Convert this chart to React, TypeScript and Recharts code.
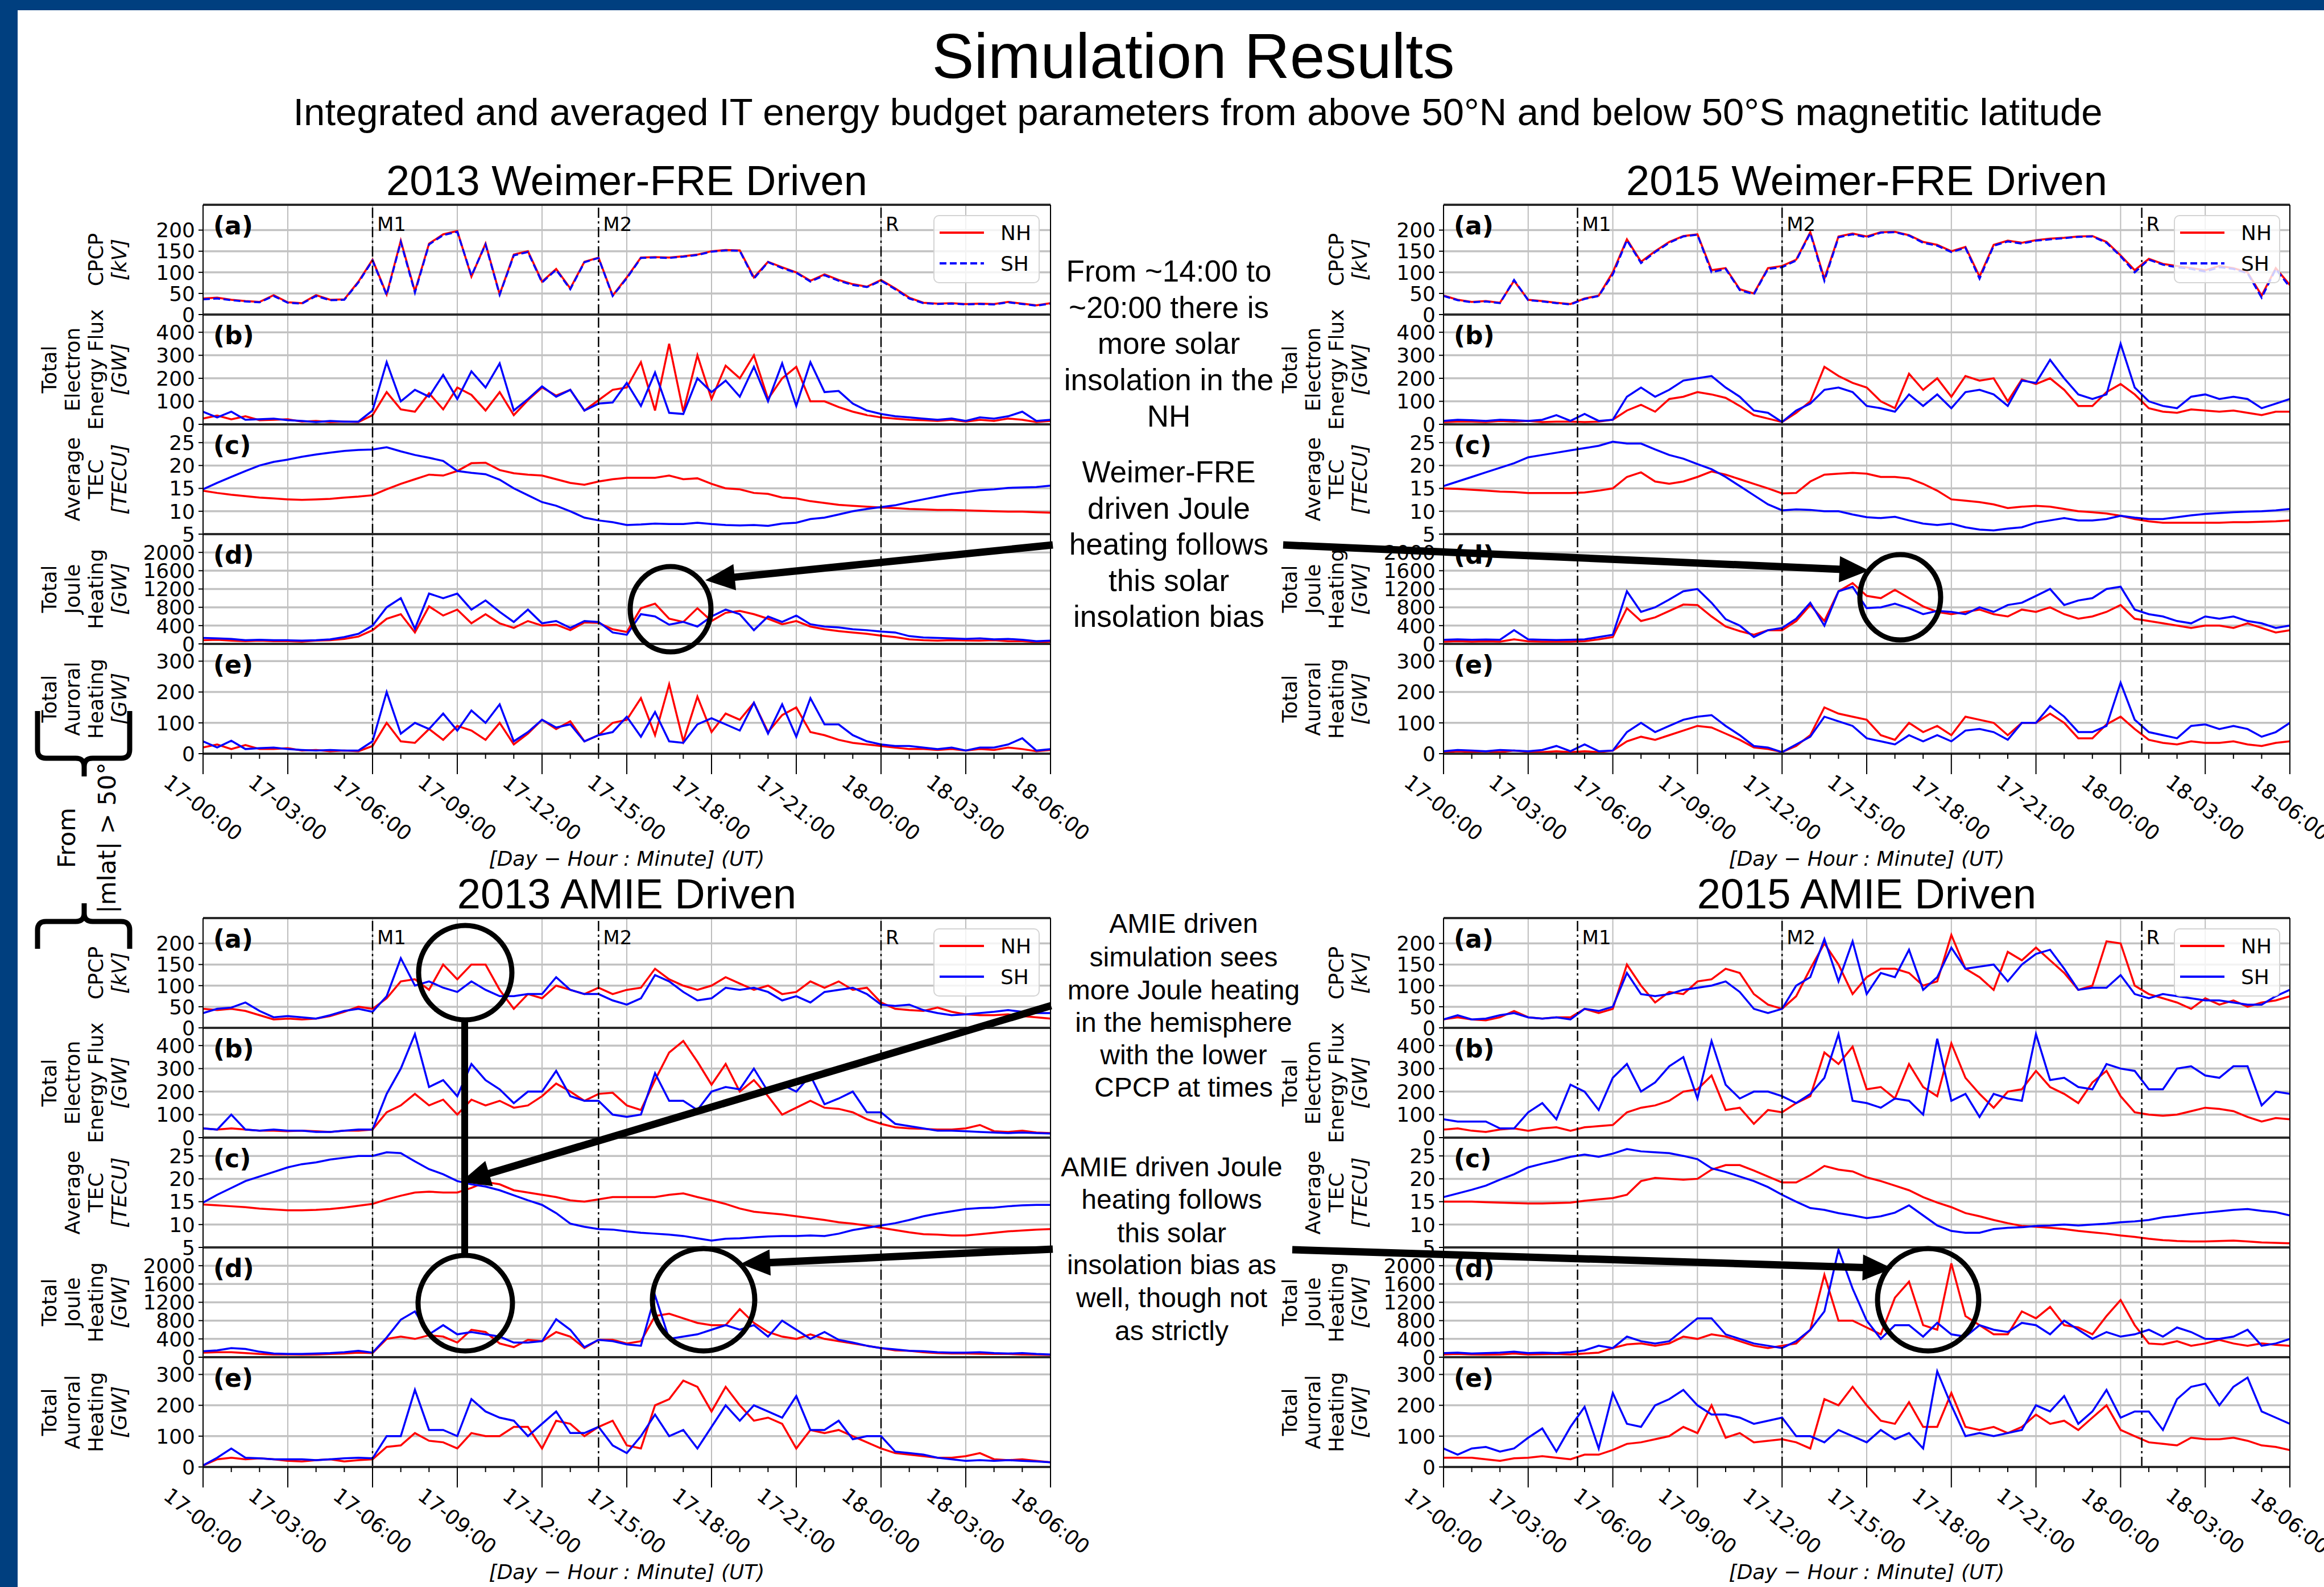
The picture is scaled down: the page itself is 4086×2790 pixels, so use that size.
import React from 'react';
import { LineChart, Line, XAxis, YAxis, ReferenceLine, Legend, CartesianGrid } from 'recharts';

// ---------- time axis ----------
const HOURS = [0,0.5,1,1.5,2,2.5,3,3.5,4,4.5,5,5.5,6,6.5,7,7.5,8,8.5,9,9.5,10,10.5,11,11.5,12,12.5,13,13.5,14,14.5,15,15.5,16,16.5,17,17.5,18,18.5,19,19.5,20,20.5,21,21.5,22,22.5,23,23.5,24,24.5,25,25.5,26,26.5,27,27.5,28,28.5,29,29.5,30];
const MINOR_TICKS = [0,1,2,3,4,5,6,7,8,9,10,11,12,13,14,15,16,17,18,19,20,21,22,23,24,25,26,27,28,29,30];
const MAJOR_TICKS = [0,3,6,9,12,15,18,21,24,27,30];
const MAJOR_LABELS = ['17-00:00','17-03:00','17-06:00','17-09:00','17-12:00','17-15:00','17-18:00','17-21:00','18-00:00','18-03:00','18-06:00'];
const VGRID = [3,6,9,12,15,18,21,24,27];
const EVENTS_2013 = [6, 14, 24];
const EVENTS_2015 = [4.75, 12, 24.75];
const EVENT_NAMES = ['M1', 'M2', 'R'];

const CPCP_TICKS = [0,50,100,150,200];
const FLUX_TICKS = [0,100,200,300,400];
const TEC_TICKS = [5,10,15,20,25];
const JOULE_TICKS = [0,400,800,1200,1600,2000];
const AUR_TICKS = [0,100,200,300];

// ---------- 2013 Weimer-FRE ----------
const w13CpcpNH = [38,40,35,32,30,46,29,27,46,35, 36,78,130,48,175,55,168,190,198,90, 168,48,142,150,78,108,62,125,135,45, 88,135,136,135,138,142,150,153,152,88, 125,112,100,80,95,82,72,66,82,62, 40,28,26,27,25,26,25,30,26,22, 27];
const w13CpcpSH = [36,38,34,31,29,44,28,26,44,34, 35,76,128,46,172,52,166,188,196,92, 166,47,140,148,76,106,60,124,134,44, 86,134,135,134,137,141,149,152,151,85, 124,110,99,78,93,80,70,65,80,60, 38,27,25,26,24,25,24,29,25,21, 26];
const w13FluxNH = [25,38,22,35,18,20,22,12,15,10, 12,10,40,140,65,55,135,65,160,128, 60,140,40,105,160,125,150,60,105,150, 160,270,60,350,55,300,110,255,200,300, 110,200,250,100,100,75,55,40,30,25, 20,18,15,20,12,20,15,25,20,10, 15];
const w13FluxSH = [55,30,55,20,22,25,18,15,10,15, 12,12,60,270,100,150,120,215,110,230, 160,265,60,110,165,120,150,60,90,95, 180,80,225,50,45,200,140,190,120,250, 100,265,80,270,140,145,90,60,45,35, 30,25,20,25,15,30,25,35,55,15, 20];
const w13TecNH = [14.5,14.0,13.6,13.3,13.0,12.8,12.6,12.5,12.6,12.7, 13.0,13.2,13.5,14.8,16.0,17.0,18.0,17.8,18.8,20.5, 20.6,19.0,18.3,18.0,17.8,17.0,16.2,15.8,16.5,17.0, 17.3,17.3,17.3,17.8,17.0,17.2,16.0,15.0,14.8,14.0, 13.8,13.0,12.8,12.2,11.8,11.4,11.2,11.0,10.8,10.7, 10.5,10.4,10.3,10.3,10.2,10.1,10.0,9.9,9.9,9.8, 9.7];
const w13TecSH = [14.8,16.2,17.5,18.8,20.0,20.8,21.3,21.9,22.4,22.8, 23.2,23.4,23.5,24.0,23.1,22.3,21.7,21.0,18.8,18.4, 18.1,16.9,15.0,13.5,12.0,11.2,10.0,8.6,8.0,7.6, 7.0,7.1,7.3,7.2,7.2,7.5,7.2,7.0,6.9,7.0, 6.8,7.3,7.5,8.3,8.6,9.3,10.0,10.5,10.9,11.3, 12.0,12.6,13.2,13.8,14.2,14.6,14.8,15.1,15.2,15.3, 15.6];
const w13JouleNH = [80,90,70,60,70,60,60,50,70,80, 110,160,300,550,650,250,820,620,750,450, 650,450,350,500,400,420,300,470,460,320, 260,780,880,550,480,780,500,680,720,650, 550,430,500,380,320,280,250,220,180,150, 100,80,70,80,75,70,80,60,60,40, 50];
const w13JouleSH = [130,120,110,80,90,80,80,70,80,100, 150,220,400,800,1000,330,1100,1000,1100,750, 950,700,480,750,450,500,350,500,480,250, 200,650,600,420,480,380,600,750,650,300, 600,480,620,430,380,360,320,300,270,250, 170,140,130,120,110,120,100,110,90,60, 70];
const w13AurNH = [20,30,15,28,15,15,18,10,12,8, 10,8,25,100,40,35,80,45,90,75, 45,100,30,65,110,80,105,40,60,100, 110,180,60,225,40,185,70,130,110,165, 70,125,150,70,60,45,35,30,25,20, 15,15,12,15,10,15,12,20,15,8, 12];
const w13AurSH = [40,20,42,15,18,20,15,12,10,12, 10,10,40,200,65,100,80,130,75,140, 100,160,40,70,110,85,95,40,60,70, 120,55,135,40,35,95,115,95,75,165, 65,160,55,180,95,95,60,40,30,25, 25,20,15,20,10,20,20,30,50,10, 15];

// ---------- 2015 Weimer-FRE ----------
const w15CpcpNH = [45,35,30,32,28,80,35,32,28,25, 38,45,100,178,125,150,172,186,190,105, 110,60,50,110,115,130,195,85,185,192, 185,195,196,188,172,165,150,160,90,165, 175,170,176,180,182,185,186,172,140,105, 132,120,115,110,105,115,110,100,45,110, 70];
const w15CpcpSH = [44,34,29,31,27,82,34,31,27,24, 37,44,95,176,122,148,170,185,189,100, 108,58,48,108,112,128,193,80,183,190, 183,194,195,187,170,163,148,158,85,163, 173,168,175,178,181,184,185,170,138,100, 130,118,112,108,102,112,108,98,40,108, 65];
const w15FluxNH = [10,12,12,10,14,12,15,10,12,12, 10,12,20,60,85,55,110,120,140,130, 115,80,40,25,10,50,100,250,210,180, 160,100,70,220,150,200,120,210,190,200, 100,195,175,200,150,80,80,140,175,130, 70,55,50,65,60,55,60,50,40,55, 55];
const w15FluxSH = [15,20,18,15,20,18,15,20,40,15, 45,15,20,120,160,120,150,190,200,210, 160,120,60,50,10,60,90,150,160,140, 80,70,55,130,80,130,70,140,150,130, 80,190,180,280,200,130,110,130,350,160, 100,80,70,120,130,110,120,110,70,90, 110];
const w15TecNH = [15.0,14.9,14.7,14.5,14.3,14.2,14.0,14.0,14.0,14.0, 14.1,14.5,15.0,17.5,18.5,16.5,16.0,16.5,17.5,18.7, 18.0,17.0,16.0,15.0,13.9,14.0,16.5,18.0,18.2,18.4, 18.2,17.5,17.5,17.2,16.0,14.5,12.6,12.3,12.0,11.5, 10.7,11.0,11.2,11.0,10.5,10.0,9.8,9.5,9.0,8.3, 7.8,7.5,7.5,7.5,7.5,7.5,7.6,7.6,7.7,7.8, 8.0];
const w15TecSH = [15.5,16.5,17.5,18.5,19.5,20.5,21.8,22.3,22.8,23.3, 23.8,24.3,25.2,24.8,24.8,23.5,22.3,21.5,20.3,19.2, 17.5,15.5,13.5,11.5,10.2,10.4,10.3,10.0,10.0,9.3, 8.7,8.5,8.8,8.0,7.3,7.0,7.3,6.5,6.0,5.8, 6.2,6.5,7.5,8.0,8.5,8.0,8.0,8.3,9.0,8.6, 8.3,8.3,8.7,9.1,9.4,9.6,9.8,9.9,10.0,10.2, 10.5];
const w15JouleNH = [50,60,50,55,50,100,55,50,50,50, 60,100,150,780,500,580,720,860,850,600, 380,280,200,300,300,500,850,500,1150,1330, 1050,1000,1180,1000,820,700,650,700,750,650, 600,750,700,800,650,550,600,700,850,550, 500,450,400,350,400,400,350,450,350,250, 300];
const w15JouleSH = [90,100,90,95,90,300,100,90,85,90, 100,150,200,1150,700,800,970,1150,1200,900, 540,400,150,300,350,550,900,400,1150,1250, 780,800,880,780,650,720,700,650,800,700, 850,900,1050,1200,850,950,1000,1200,1250,750, 650,600,500,450,600,550,600,500,450,350, 400];
const w15AurNH = [5,8,6,8,5,10,6,5,8,5, 8,5,10,40,55,45,60,75,90,85, 65,45,20,15,5,25,60,150,130,120, 110,60,45,100,70,90,60,120,110,100, 60,100,100,130,100,50,50,95,120,80, 45,35,30,40,35,35,40,30,25,35, 40];
const w15AurSH = [8,12,10,8,12,10,8,12,25,8, 30,8,10,70,100,70,90,110,120,125, 90,60,25,20,5,30,55,120,105,90, 50,40,30,60,40,60,40,75,80,70, 45,100,100,155,120,70,70,90,230,110, 70,60,50,90,95,80,90,80,55,70, 100];

// ---------- 2013 AMIE ----------
const a13CpcpNH = [45,42,45,40,30,20,22,20,22,28, 38,50,45,70,110,115,90,150,115,150, 150,90,45,80,70,100,90,80,95,80, 90,95,140,115,100,90,100,120,105,90, 100,80,85,110,95,110,90,95,60,45, 42,40,48,38,32,30,30,32,28,25, 22];
const a13CpcpSH = [35,45,48,60,40,25,28,25,22,30, 40,45,38,75,165,100,110,95,85,110, 90,75,75,80,80,120,90,80,80,65, 55,70,125,110,85,65,70,95,90,95, 85,65,75,60,85,90,95,80,55,52, 55,42,35,30,32,35,38,42,38,35, 35];
const a13FluxNH = [40,35,40,35,30,30,28,30,28,25, 30,30,35,110,140,190,140,165,100,165, 140,160,130,140,180,235,200,160,190,195, 140,120,250,370,420,330,230,320,200,250, 180,100,130,160,130,125,110,80,60,45, 40,38,35,35,40,55,28,25,30,22, 20];
const a13FluxSH = [40,35,100,35,30,35,30,30,25,25, 30,35,35,190,300,450,220,250,180,320, 250,210,150,200,200,290,180,160,160,100, 90,100,280,160,160,120,200,220,210,300, 200,230,200,270,145,170,200,110,110,60, 50,40,30,30,28,25,22,20,22,20, 18];
const a13TecNH = [14.4,14.2,14.0,13.8,13.5,13.3,13.1,13.1,13.2,13.4, 13.7,14.1,14.5,15.5,16.3,17.0,17.2,17.0,17.0,18.0, 19.3,18.8,17.5,17.0,16.5,16.0,15.3,15.0,15.5,16.0, 16.0,16.0,16.0,16.5,16.8,16.0,15.3,14.5,13.5,12.8, 12.5,12.2,11.8,11.4,11.0,10.5,10.2,9.8,9.3,8.8, 8.3,7.9,7.8,7.6,7.6,7.9,8.2,8.5,8.7,8.9, 9.0];
const a13TecSH = [14.8,16.5,18.0,19.5,20.5,21.5,22.5,23.2,23.6,24.2, 24.6,25.0,25.0,25.8,25.6,23.8,22.1,21.0,19.5,18.8, 18.3,17.5,16.4,15.3,14.3,12.5,10.2,9.5,9.0,8.9, 8.5,8.2,8.0,7.8,7.5,7.0,6.5,6.9,7.0,7.2, 7.4,7.5,7.5,7.6,7.5,8.0,8.8,9.3,9.8,10.3, 11.0,11.8,12.4,12.9,13.4,13.6,13.7,14.0,14.2,14.3, 14.3];
const a13JouleNH = [100,110,110,90,70,60,60,55,60,70, 80,100,90,400,450,400,480,450,320,600, 550,300,220,380,350,550,450,200,380,380, 300,350,900,950,850,750,700,700,1050,750, 550,450,400,500,400,350,300,250,200,150, 140,110,90,80,80,75,70,70,60,55, 50];
const a13JouleSH = [130,150,200,180,120,80,70,70,80,90, 110,140,100,430,820,1000,500,700,500,550, 500,450,320,320,350,830,600,220,380,350, 280,250,1350,400,450,500,600,700,600,700, 450,800,600,400,550,380,320,250,200,170, 140,130,110,100,100,110,90,80,90,70, 60];
const a13AurNH = [5,25,30,25,28,25,20,18,22,25, 18,22,25,65,70,110,85,80,60,110, 100,100,130,130,60,150,140,100,130,150, 70,60,200,220,280,260,180,260,200,150, 160,140,60,120,110,120,100,80,60,45, 40,35,30,30,35,45,25,22,25,20, 15];
const a13AurSH = [5,30,60,30,28,25,25,25,22,25, 28,30,28,100,100,250,120,120,100,220, 180,160,150,100,140,180,110,110,130,70, 45,100,170,100,120,60,130,200,150,200, 180,160,230,120,120,150,90,100,100,50, 45,40,30,25,20,22,20,22,20,18, 15];

// ---------- 2015 AMIE ----------
const a15CpcpNH = [20,25,20,18,25,40,25,22,25,25, 45,35,45,150,100,60,85,80,110,115, 140,130,80,55,45,75,140,200,150,80, 120,140,140,130,100,110,220,140,120,90, 180,160,190,160,130,90,100,205,200,100, 80,70,60,45,70,55,65,50,60,65, 75];
const a15CpcpSH = [20,30,20,22,30,35,25,22,25,20, 45,40,50,130,80,75,80,90,95,100, 110,85,45,35,45,100,120,210,110,205, 80,130,120,185,90,120,190,140,145,150, 110,150,175,185,140,90,95,95,125,80, 70,80,75,70,65,65,60,55,55,75, 90];
const a15FluxNH = [35,40,30,25,35,40,30,40,45,30, 45,50,55,110,130,140,160,200,210,270, 120,130,60,120,110,150,180,370,320,395, 210,220,170,320,220,180,410,260,190,130, 200,210,290,220,190,150,240,290,180,110, 100,95,100,115,130,125,115,90,70,85, 80];
const a15FluxSH = [80,70,70,70,40,40,110,150,80,230, 200,120,260,320,200,240,310,350,170,420, 230,170,200,200,180,150,190,260,450,160, 150,130,170,160,100,430,160,190,90,190, 170,160,450,250,260,220,210,320,300,290, 210,210,300,310,270,260,310,310,140,200, 190];
const a15TecNH = [15.0,15.0,15.0,14.9,14.8,14.7,14.6,14.6,14.7,14.8, 15.2,15.5,15.8,16.5,19.5,20.2,20.0,19.8,20.0,22.0, 23.0,23.0,21.8,20.5,19.2,19.2,20.8,22.8,22.0,21.6, 20.3,19.5,18.5,17.5,16.0,14.8,13.8,12.5,11.8,11.0, 10.3,9.7,9.5,9.3,9.0,8.6,8.3,8.0,7.6,7.3, 6.9,6.6,6.4,6.3,6.3,6.4,6.5,6.3,6.1,6.0, 5.9];
const a15TecSH = [16.0,16.8,17.6,18.5,19.8,21.0,22.5,23.3,24.0,24.8, 25.3,24.8,25.5,26.5,26.0,25.8,25.6,25.0,24.3,22.3, 21.5,20.5,19.5,18.2,16.5,15.0,13.6,13.2,12.5,12.0, 11.4,11.8,12.6,14.2,12.0,9.8,8.6,8.2,8.2,9.0, 9.3,9.4,9.7,9.8,10.0,9.8,10.0,10.2,10.5,10.7, 11.0,11.6,11.9,12.3,12.6,12.9,13.2,13.4,13.0,12.7, 12.0];
const a15JouleNH = [60,70,60,55,60,80,60,65,70,60, 80,100,200,280,300,250,300,450,400,500, 450,350,250,200,250,300,600,1800,800,800, 650,500,1300,1650,700,600,2050,900,700,500, 500,1000,850,1100,700,650,500,900,1250,700, 300,280,350,250,300,380,300,250,300,270, 250];
const a15JouleSH = [90,100,80,90,100,120,90,100,90,110, 150,250,200,450,350,300,350,600,850,850, 500,400,300,250,200,350,600,1000,2350,1500, 800,400,700,700,450,750,500,450,700,600, 550,750,700,500,800,600,400,550,450,500, 600,450,650,550,400,400,450,600,250,300, 400];
const a15AurNH = [30,30,30,25,20,28,30,35,30,25, 40,40,55,75,80,90,100,130,110,200, 95,110,80,85,90,80,60,220,200,260, 200,150,140,210,130,130,240,130,120,130, 110,130,170,140,150,120,160,200,120,100, 80,75,70,95,90,90,95,85,70,65, 55];
const a15AurSH = [60,40,60,65,50,60,95,125,50,130, 195,60,240,140,130,200,220,250,200,170, 170,160,140,150,160,100,100,80,120,100, 80,120,90,110,60,310,200,100,110,100, 110,120,200,180,230,140,180,250,160,180, 180,120,220,260,270,200,260,290,180,160, 140];

// ---------- styling / layout ----------
const RED = '#ff0000';
const BLUE = '#0000ff';
const DV = '"DejaVu Sans", sans-serif';
const LIB = '"Liberation Sans", Arial, sans-serif';
const YW = 140;
const PAD = 40;
const XH = 200;
const RM = 120;
const PH = 193;

const PANELS = [
  { key: 'cpcp', domain: [0, 260], ticks: CPCP_TICKS, label: ['CPCP', '[kV]'], letter: '(a)' },
  { key: 'flux', domain: [0, 477], ticks: FLUX_TICKS, label: ['Total', 'Electron', 'Energy Flux', '[GW]'], letter: '(b)' },
  { key: 'tec', domain: [5, 29], ticks: TEC_TICKS, label: ['Average', 'TEC', '[TECU]'], letter: '(c)' },
  { key: 'joule', domain: [0, 2400], ticks: JOULE_TICKS, label: ['Total', 'Joule', 'Heating', '[GW]'], letter: '(d)' },
  { key: 'aur', domain: [0, 356], ticks: AUR_TICKS, label: ['Total', 'Auroral', 'Heating', '[GW]'], letter: '(e)' },
];

const GROUPS = [
  { id: 'w13', title: '2013 Weimer-FRE Driven', left: 357, top: 360, width: 1490, events: EVENTS_2013, dashed: true,
    series: { cpcp: [w13CpcpNH, w13CpcpSH], flux: [w13FluxNH, w13FluxSH], tec: [w13TecNH, w13TecSH], joule: [w13JouleNH, w13JouleSH], aur: [w13AurNH, w13AurSH] } },
  { id: 'w15', title: '2015 Weimer-FRE Driven', left: 2538, top: 360, width: 1488, events: EVENTS_2015, dashed: true,
    series: { cpcp: [w15CpcpNH, w15CpcpSH], flux: [w15FluxNH, w15FluxSH], tec: [w15TecNH, w15TecSH], joule: [w15JouleNH, w15JouleSH], aur: [w15AurNH, w15AurSH] } },
  { id: 'a13', title: '2013 AMIE Driven', left: 357, top: 1614, width: 1490, events: EVENTS_2013, dashed: false,
    series: { cpcp: [a13CpcpNH, a13CpcpSH], flux: [a13FluxNH, a13FluxSH], tec: [a13TecNH, a13TecSH], joule: [a13JouleNH, a13JouleSH], aur: [a13AurNH, a13AurSH] } },
  { id: 'a15', title: '2015 AMIE Driven', left: 2538, top: 1614, width: 1488, events: EVENTS_2015, dashed: false,
    series: { cpcp: [a15CpcpNH, a15CpcpSH], flux: [a15FluxNH, a15FluxSH], tec: [a15TecNH, a15TecSH], joule: [a15JouleNH, a15JouleSH], aur: [a15AurNH, a15AurSH] } },
];

function XTick(props: any) {
  const { x, y, payload } = props;
  const v = payload.value;
  const idx = MAJOR_TICKS.indexOf(v);
  const major = idx >= 0;
  const cy = y + 95;
  return (
    <g>
      <line x1={x} y1={y} x2={x} y2={y + (major ? 36 : 9)} stroke="#000" strokeWidth={2} />
      {major && (
        <text x={x} y={cy} transform={`rotate(38 ${x} ${cy})`} textAnchor="middle" dominantBaseline="central"
          fontFamily={DV} fontSize={36} fill="#000">{MAJOR_LABELS[idx]}</text>
      )}
    </g>
  );
}

function LegendBox({ dashed }: { dashed: boolean }) {
  return (
    <div style={{ width: 187, height: 120, boxSizing: 'border-box', border: '2px solid #d4d4d4', borderRadius: 10,
      background: 'rgba(255,255,255,0.8)', position: 'relative' }}>
      <svg width={187} height={120} style={{ position: 'absolute', left: -2, top: -2 }}>
        <line x1={11} y1={31} x2={89} y2={31} stroke={RED} strokeWidth={4} />
        <text x={118} y={31} dominantBaseline="central" fontFamily={DV} fontSize={36} fill="#000">NH</text>
        <line x1={11} y1={85} x2={89} y2={85} stroke={BLUE} strokeWidth={4} strokeDasharray={dashed ? '12 6' : undefined} />
        <text x={118} y={85} dominantBaseline="central" fontFamily={DV} fontSize={36} fill="#000">SH</text>
      </svg>
    </div>
  );
}

function PanelChart({ g, p, i }: any) {
  const last = i === 4;
  const nh = g.series[p.key][0];
  const sh = g.series[p.key][1];
  const rows = HOURS.map((t, k) => ({ t, n: nh[k], s: sh[k] }));
  const h = PH + PAD + (last ? XH : PAD);
  return (
    <div style={{ position: 'absolute', left: g.left - YW, top: g.top + i * PH - PAD }}>
      <LineChart width={YW + g.width + RM} height={h} data={rows}
        margin={{ top: PAD, right: RM, bottom: last ? 0 : PAD, left: 0 }}>
        <CartesianGrid horizontal={false} vertical verticalValues={VGRID} stroke="#bdbdbd" strokeWidth={2} />
        <CartesianGrid vertical={false} horizontal horizontalValues={p.ticks} stroke="#c2c2c2" strokeWidth={3.5} />
        <XAxis type="number" dataKey="t" domain={[0, 30]} ticks={MINOR_TICKS} interval={0} hide={!last}
          height={XH} tickSize={0} tickMargin={0} tickLine={false} axisLine={false}
          tick={(tp: any) => <XTick {...tp} />} allowDataOverflow />
        <YAxis type="number" domain={p.domain} ticks={p.ticks} interval={0} width={YW} allowDataOverflow
          axisLine={false} tickSize={8} tickMargin={6} tickLine={{ stroke: '#000', strokeWidth: 2 }}
          tick={{ fontSize: 36, fill: '#000', fontFamily: DV }} />
        <Line type="linear" dataKey="n" stroke={RED} strokeWidth={3.5} dot={false} isAnimationActive={false} />
        <Line type="linear" dataKey="s" stroke={BLUE} strokeWidth={3.5} dot={false} isAnimationActive={false}
          strokeDasharray={g.dashed && i === 0 ? '12 6' : undefined} />
        {g.events.map((x: number) => (
          <ReferenceLine key={'e' + x} x={x} stroke="#000" strokeWidth={2.5} strokeDasharray="18 6 4 6" />
        ))}
        <ReferenceLine y={p.domain[1]} stroke="#2a2a2a" strokeWidth={4} />
        <ReferenceLine y={p.domain[0]} stroke="#2a2a2a" strokeWidth={4} />
        <ReferenceLine x={0} stroke="#000" strokeWidth={2} />
        <ReferenceLine x={30} stroke="#000" strokeWidth={2} />
        {i === 0 && (
          <Legend layout="horizontal" align="center" verticalAlign="middle"
            wrapperStyle={{ position: 'absolute', left: YW + 1284, top: PAD + 18, width: 187, height: 120 }}
            content={() => <LegendBox dashed={g.dashed} />} />
        )}
      </LineChart>
    </div>
  );
}

function Arrow({ x1, y1, x2, y2, w = 13, hl = 52, hw = 46 }: any) {
  const dx = x2 - x1, dy = y2 - y1;
  const L = Math.hypot(dx, dy);
  const ux = dx / L, uy = dy / L;
  const bx = x2 - ux * hl, by = y2 - uy * hl;
  const px = -uy, py = ux;
  return (
    <g>
      <line x1={x1} y1={y1} x2={bx + ux * 4} y2={by + uy * 4} stroke="#000" strokeWidth={w} />
      <polygon points={`${x2},${y2} ${bx + px * hw / 2},${by + py * hw / 2} ${bx - px * hw / 2},${by - py * hw / 2}`} fill="#000" />
    </g>
  );
}

const BLOCKS = [
  { x: 2055, size: 53, base: [495, 559, 622, 686, 750], lines: ['From ~14:00 to', '~20:00 there is', 'more solar', 'insolation in the', 'NH'] },
  { x: 2055, size: 53, base: [848, 912, 975, 1039, 1102], lines: ['Weimer-FRE', 'driven Joule', 'heating follows', 'this solar', 'insolation bias'] },
  { x: 2081, size: 48, base: [1640, 1699, 1757, 1814, 1871, 1928], lines: ['AMIE driven', 'simulation sees', 'more Joule heating', 'in the hemisphere', 'with the lower', 'CPCP at times'] },
  { x: 2060, size: 48, base: [2068, 2125, 2184, 2240, 2298, 2356], lines: ['AMIE driven Joule', 'heating follows', 'this solar', 'insolation bias as', 'well, though not', 'as strictly'] },
];

function GroupTexts({ g }: any) {
  const cx = g.left + g.width / 2;
  return (
    <g>
      <text x={cx} y={g.top - 17} textAnchor="middle" fontFamily={LIB} fontSize={74} fill="#000">{g.title}</text>
      {PANELS.map((p, i) => {
        const cy = g.top + i * PH + PH / 2;
        const k = p.label.length;
        return (
          <g key={p.key}>
            {p.label.map((ln, j) => {
              const x = g.left - 148 - (k - 1 - j) * 41;
              return (
                <text key={j} x={x} y={cy} transform={`rotate(-90 ${x} ${cy})`} textAnchor="middle" dominantBaseline="central"
                  fontFamily={DV} fontSize={36} fontStyle={ln.startsWith('[') ? 'italic' : 'normal'} fill="#000">{ln}</text>
              );
            })}
            <text x={g.left + 18} y={g.top + i * PH + 52} fontFamily={DV} fontWeight="bold" fontSize={44} fill="#000">{p.letter}</text>
          </g>
        );
      })}
      {g.events.map((t: number, j: number) => (
        <text key={j} x={g.left + (t / 30) * g.width + 8} y={g.top + 46} fontFamily={DV} fontSize={34} fill="#000">{EVENT_NAMES[j]}</text>
      ))}
      <text x={cx} y={g.top + 5 * PH + 197} textAnchor="middle" fontFamily={DV} fontStyle="italic" fontSize={36} fill="#000">{'[Day \u2212 Hour : Minute] (UT)'}</text>
    </g>
  );
}

function Overlay() {
  return (
    <svg width={4086} height={2790} style={{ position: 'absolute', left: 0, top: 0, pointerEvents: 'none' }}>
      <rect x={0} y={0} width={4086} height={18} fill="#003f7f" />
      <rect x={0} y={0} width={31} height={2790} fill="#003f7f" />
      <text x={2098} y={137} textAnchor="middle" fontFamily={LIB} fontSize={111} fill="#000">Simulation Results</text>
      <text x={2106} y={220} textAnchor="middle" fontFamily={LIB} fontSize={67} fill="#000">Integrated and averaged IT energy budget parameters from above 50°N and below 50°S magnetitic latitude</text>
      {GROUPS.map(g => <GroupTexts key={g.id} g={g} />)}
      {BLOCKS.map((b, bi) => (
        <g key={bi}>
          {b.lines.map((ln, j) => (
            <text key={j} x={b.x} y={b.base[j]} textAnchor="middle" fontFamily={LIB} fontSize={b.size} fill="#000">{ln}</text>
          ))}
        </g>
      ))}
      <path d="M 66 1250 L 66 1318 Q 66 1333 81 1333 L 133 1333 Q 148 1333 148 1348 L 148 1365 M 148 1348 Q 148 1333 163 1333 L 213 1333 Q 228 1333 228 1318 L 228 1250"
        fill="none" stroke="#000" strokeWidth={9} />
      <path d="M 66 1668 L 66 1635 Q 66 1620 81 1620 L 133 1620 Q 148 1620 148 1605 L 148 1588 M 148 1605 Q 148 1620 163 1620 L 213 1620 Q 228 1620 228 1635 L 228 1668"
        fill="none" stroke="#000" strokeWidth={9} />
      <text x={117} y={1473} transform="rotate(-90 117 1473)" textAnchor="middle" dominantBaseline="central" fontFamily={DV} fontSize={43} fill="#000">From</text>
      <text x={188} y={1473} transform="rotate(-90 188 1473)" textAnchor="middle" dominantBaseline="central" fontFamily={DV} fontSize={43} fill="#000">|mlat| &gt; 50°</text>
      <g fill="none" stroke="#000" strokeWidth={9}>
        <ellipse cx={1179} cy={1071} rx={71} ry={75} />
        <ellipse cx={3341} cy={1050} rx={71} ry={75} />
        <ellipse cx={818} cy={1710} rx={82} ry={83} />
        <ellipse cx={818} cy={2291} rx={83} ry={84} />
        <ellipse cx={1237} cy={2285} rx={90} ry={90} />
        <ellipse cx={3390} cy={2285} rx={89} ry={90} />
      </g>
      <line x1={817} y1={1793} x2={817} y2={2207} stroke="#000" strokeWidth={12} />
      <Arrow x1={1851} y1={958} x2={1240} y2={1020} />
      <Arrow x1={2256} y1={958} x2={3286} y2={1003} />
      <Arrow x1={1848} y1={1768} x2={810} y2={2078} />
      <Arrow x1={1851} y1={2196} x2={1302} y2={2222} />
      <Arrow x1={2272} y1={2197} x2={3327} y2={2230} />
    </svg>
  );
}

export default function App() {
  return (
    <div style={{ position: 'absolute', left: 0, top: 0, width: 4086, height: 2790, overflow: 'hidden', background: '#fff' }}>
      {GROUPS.map(g => PANELS.map((p, i) => <PanelChart key={g.id + p.key} g={g} p={p} i={i} />))}
      <Overlay />
    </div>
  );
}
